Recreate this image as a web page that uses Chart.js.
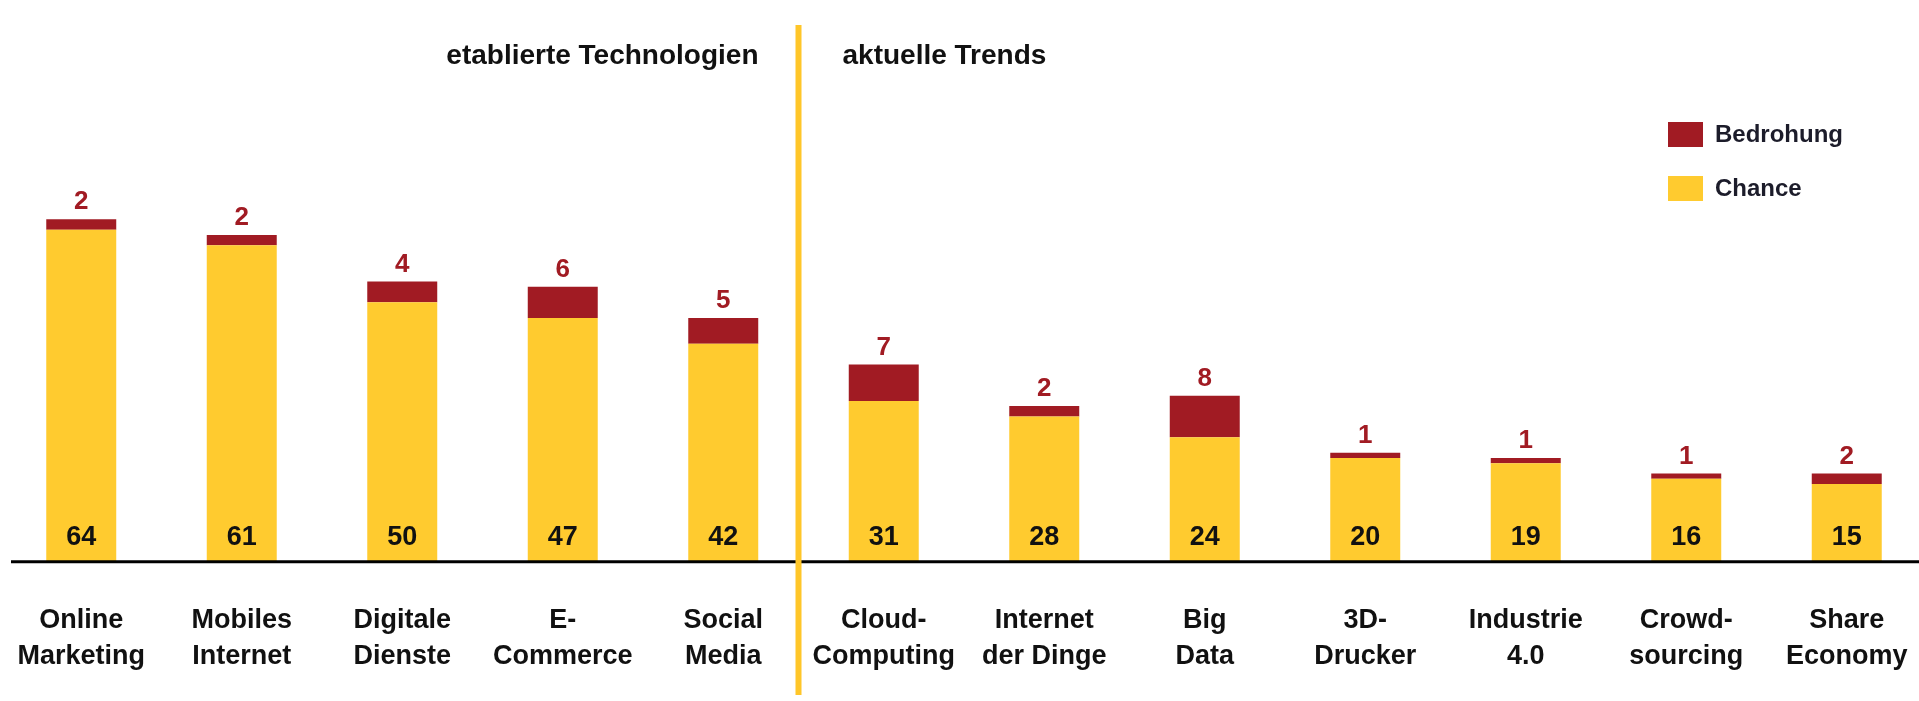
<!DOCTYPE html>
<html>
<head>
<meta charset="utf-8">
<script src="https://cdn.jsdelivr.net/npm/chart.js@4.4.1/dist/chart.umd.min.js"></script>
<style>
  html, body { margin: 0; padding: 0; background: #fff; overflow: hidden; }
  #wrap { position: relative; width: 1928px; height: 701px; }
</style>
</head>
<body>
<div id="wrap"><canvas id="chart"></canvas></div>
<script>
// Daten
var kategorien = [
  ['Online', 'Marketing'], ['Mobiles', 'Internet'], ['Digitale', 'Dienste'],
  ['E-', 'Commerce'], ['Social', 'Media'], ['Cloud-', 'Computing'],
  ['Internet', 'der Dinge'], ['Big', 'Data'], ['3D-', 'Drucker'],
  ['Industrie', '4.0'], ['Crowd-', 'sourcing'], ['Share', 'Economy']
];
var chance = [64, 61, 50, 47, 42, 31, 28, 24, 20, 19, 16, 15];
var bedrohung = [2, 2, 4, 6, 5, 7, 2, 8, 1, 1, 1, 2];
var bereiche = ['etablierte Technologien', 'aktuelle Trends'];
var trennIndex = 5; // erste Kategorie der "aktuellen Trends"

var GELB = '#FFCB2F';
var ROT = '#A11B23';
var LINIE = '#FFC629';
var schrift = "'Liberation Sans', Arial, sans-serif";

// Zahlen, Achsenlinie, Trennlinie, Ueberschriften, Legende
var deko = {
  id: 'deko',
  afterDatasetsDraw: function (chart) {
    var ctx = chart.ctx;
    var x = chart.scales.x, y = chart.scales.y;
    var null0 = y.getPixelForValue(0);
    ctx.save();

    // Grundlinie
    ctx.strokeStyle = '#000';
    ctx.lineWidth = 3;
    ctx.beginPath();
    ctx.moveTo(11, null0);
    ctx.lineTo(1919, null0);
    ctx.stroke();

    // Trennlinie zwischen den Bereichen
    var trennX = (x.getPixelForTick(trennIndex - 1) + x.getPixelForTick(trennIndex)) / 2 - 5;
    ctx.fillStyle = LINIE;
    ctx.fillRect(trennX - 3, 25, 6, 670);

    // Bereichsueberschriften
    ctx.fillStyle = '#111';
    ctx.font = 'bold 28px ' + schrift;
    ctx.textBaseline = 'alphabetic';
    ctx.textAlign = 'right';
    ctx.fillText(bereiche[0], trennX - 40, 64);
    ctx.textAlign = 'left';
    ctx.fillText(bereiche[1], trennX + 44, 64);

    // Werte
    ctx.textAlign = 'center';
    var m0 = chart.getDatasetMeta(0), m1 = chart.getDatasetMeta(1);
    ctx.font = 'bold 27px ' + schrift;
    ctx.fillStyle = '#111';
    m0.data.forEach(function (bar, i) {
      ctx.fillText(chance[i], bar.x, bar.base - 17);
    });
    ctx.font = 'bold 26px ' + schrift;
    ctx.fillStyle = ROT;
    m1.data.forEach(function (bar, i) {
      ctx.fillText(bedrohung[i], bar.x, bar.y - 10);
    });

    // Legende (Bedrohung oben, Chance unten)
    var eintraege = [chart.data.datasets[1], chart.data.datasets[0]];
    ctx.font = 'bold 24px ' + schrift;
    ctx.textAlign = 'left';
    ctx.textBaseline = 'middle';
    eintraege.forEach(function (ds, k) {
      var ty = 122 + k * 54;
      ctx.fillStyle = ds.backgroundColor;
      ctx.fillRect(1668, ty, 35, 25);
      ctx.fillStyle = '#1c1c2a';
      ctx.fillText(ds.label, 1715, ty + 13);
    });
    ctx.restore();
  }
};

new Chart(document.getElementById('chart'), {
  type: 'bar',
  data: {
    labels: kategorien,
    datasets: [
      { label: 'Chance', data: chance, backgroundColor: GELB },
      { label: 'Bedrohung', data: bedrohung, backgroundColor: ROT }
    ]
  },
  options: {
    responsive: true,
    maintainAspectRatio: false,
    animation: false,
    datasets: { bar: { categoryPercentage: 1, barPercentage: 0.436 } },
    layout: { padding: { left: 1, right: 1, top: 43, bottom: 27 } },
    plugins: { legend: { display: false }, tooltip: { enabled: false } },
    scales: {
      x: {
        stacked: true,
        grid: { display: true, drawOnChartArea: false, drawTicks: true, tickLength: 41, color: 'rgba(0,0,0,0)' },
        border: { display: false },
        ticks: {
          autoSkip: false, maxRotation: 0, color: '#111', padding: 0,
          font: { family: schrift, size: 27, weight: 'bold', lineHeight: 1.32 }
        }
      },
      y: { stacked: true, display: false, min: 0, max: 100 }
    }
  },
  plugins: [deko]
});
</script>
</body>
</html>
